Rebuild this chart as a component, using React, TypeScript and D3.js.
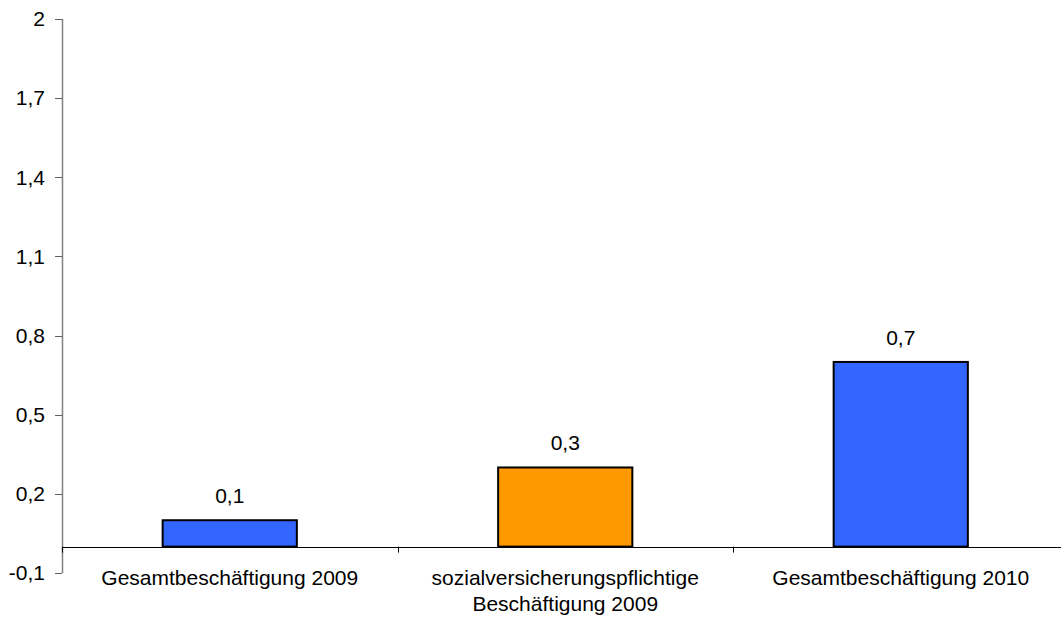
import React from "react";
import * as d3 from "d3";

const categories = [
  ["Gesamtbeschäftigung 2009"],
  ["sozialversicherungspflichtige", "Beschäftigung 2009"],
  ["Gesamtbeschäftigung 2010"],
];
const values = [0.1, 0.3, 0.7];
const barColors = ["#3366FF", "#FF9900", "#3366FF"];
const yTicks = [-0.1, 0.2, 0.5, 0.8, 1.1, 1.4, 1.7, 2];

const W = 1061;
const H = 617;
const FONT = "'Liberation Sans', Arial, sans-serif";

export default function App() {
  const keys = categories.map((c) => c.join(" "));
  const x = d3
    .scaleBand<string>()
    .domain(keys)
    .range([62, 1068.5])
    .paddingInner(0.6)
    .paddingOuter(0.3);
  const y = d3.scaleLinear().domain([-0.1, 2]).range([573, 19]);
  const fmt = (v: number) => String(+v.toFixed(1)).replace(".", ",");
  const step = x.step();
  const left = x.range()[0];
  const boundaries = d3.range(keys.length + 1).map((i) => left + i * step);
  const y0 = y(0);

  return (
    <svg
      width={W}
      height={H}
      style={{ position: "fixed", left: 0, top: 0, background: "#fff" }}
      fontFamily={FONT}
      fontSize={21}
    >
      <rect width={W} height={H} fill="#fff" />
      {/* value axis */}
      <line x1={62.5} x2={62.5} y1={y(2)} y2={y(-0.1)} stroke="#808080" strokeWidth={1.5} />
      {yTicks.map((t) => (
        <g key={t}>
          <line x1={55} x2={62} y1={Math.round(y(t)) + 0.5} y2={Math.round(y(t)) + 0.5} stroke="#606060" />
          <text x={45} y={y(t)} dy="0.35em" textAnchor="end" fill="#000">
            {fmt(t)}
          </text>
        </g>
      ))}
      {/* category axis */}
      <line x1={62} x2={W} y1={Math.round(y0) + 0.5} y2={Math.round(y0) + 0.5} stroke="#000" />
      {boundaries.map((b, i) => (
        <line key={i} x1={Math.round(b) + 0.5} x2={Math.round(b) + 0.5} y1={y0} y2={y0 + 6} stroke="#000" />
      ))}
      {/* bars */}
      {values.map((v, i) => (
        <g key={keys[i]}>
          <rect
            x={x(keys[i])}
            y={y(v)}
            width={x.bandwidth()}
            height={y0 - y(v)}
            fill={barColors[i]}
            stroke="#000"
            strokeWidth={2}
          />
          <text x={x(keys[i])! + x.bandwidth() / 2} y={y(v) - 17} textAnchor="middle" fill="#000">
            {fmt(v)}
          </text>
        </g>
      ))}
      {/* category labels */}
      {categories.map((lines, i) => (
        <text key={i} x={x(keys[i])! + x.bandwidth() / 2} y={585} textAnchor="middle" fill="#000">
          {lines.map((ln, j) => (
            <tspan key={j} x={x(keys[i])! + x.bandwidth() / 2} dy={j === 0 ? 0 : 26}>
              {ln}
            </tspan>
          ))}
        </text>
      ))}
    </svg>
  );
}
